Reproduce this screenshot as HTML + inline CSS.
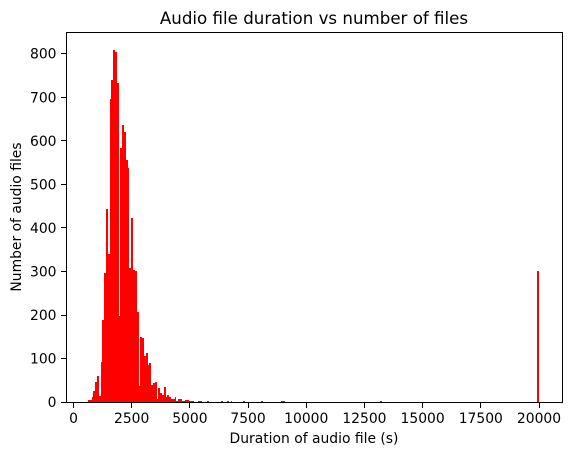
<!DOCTYPE html>
<html>
<head>
<meta charset="utf-8">
<style>
html,body{margin:0;padding:0;background:#fff;width:571px;height:455px;overflow:hidden}
svg{display:block}
text{font-family:"DejaVu Sans","Liberation Sans",sans-serif;fill:#000}
</style>
</head>
<body>
<svg id="chart" width="571" height="455" viewBox="0 0 571 455" xmlns="http://www.w3.org/2000/svg">
  <rect x="66" y="32" width="497" height="371" fill="#fff"/>
  <g id="bars" fill="#ff0000" shape-rendering="crispEdges"></g>
  <g id="x-ticks"></g>
  <g id="y-ticks"></g>
  <g stroke="#000" stroke-width="1" shape-rendering="crispEdges">
    <line x1="66.5" y1="32" x2="66.5" y2="403"/>
    <line x1="562.5" y1="32" x2="562.5" y2="403"/>
    <line x1="66" y1="32.5" x2="563" y2="32.5"/>
    <line x1="66" y1="402.5" x2="563" y2="402.5"/>
  </g>
  <text x="314" y="24" font-size="16.67" text-anchor="middle">Audio file duration vs number of files</text>
  <text x="314" y="443" font-size="13.89" text-anchor="middle">Duration of audio file (s)</text>
  <text x="0" y="0" font-size="13.89" text-anchor="middle" transform="translate(21 217) rotate(-90)">Number of audio files</text>
</svg>
<script>
const xTickValues = [0, 2500, 5000, 7500, 10000, 12500, 15000, 17500, 20000];
const yTickValues = [0, 100, 200, 300, 400, 500, 600, 700, 800];
const binStart = 623;
const binWidth = 77.5;
const counts = [
  5,5,12,26,46,60,14,92,188,296,
  443,340,695,739,808,803,732,197,583,636,
  620,555,537,308,422,304,301,207,37,150,
  148,106,113,86,90,40,44,47,8,33,
  21,17,35,12,17,12,8,8,12,3,
  8,8,3,3,5,5,2,2,1,0,
  0,2,2,0,0,0,2,0,0,0,
  0,0,0,0,2,0,0,2,0,1,
  0,0,0,0,0,0,2,0,0,0,
  0,0,0,0,0,0,2,0,0,0,
  0,0,0,0,0,0,0,2,2,0,
  0,0,0,0,0,0,0,0,0,0,
  0,0,0,0,0,0,0,0,0,0,
  0,0,0,0,0,0,0,0,0,0,
  0,0,0,0,0,0,0,0,0,0,
  0,0,0,0,0,0,0,0,0,0,
  0,0,1,0,0,0,0,0,0,0,
  0,0,0,0,0,0,0,0,0,0,
  0,0,0,0,0,0,0,0,0,0,
  0,0,0,0,0,0,0,0,0,0,
  0,0,0,0,0,0,0,0,0,0,
  0,0,0,0,0,0,0,0,0,0,
  0,0,0,0,0,0,0,0,0,0,
  0,0,0,0,0,0,0,0,0,0,
  0,0,0,0,0,0,0,0,0,302
];

const NS = 'http://www.w3.org/2000/svg';
function xScale(v) { return 73.5 + v * 0.023275; }
function yScale(v) { return 402.2 - v * 0.4356; }

const barsGroup = document.getElementById('bars');
counts.forEach(function (count, i) {
  if (count <= 0) return;
  const left = Math.round(xScale(binStart + i * binWidth));
  const right = Math.max(left + 1, Math.round(xScale(binStart + (i + 1) * binWidth)));
  const top = Math.round(yScale(count));
  const bar = document.createElementNS(NS, 'rect');
  
  
  bar.setAttribute('x', left);
  bar.setAttribute('y', Math.min(top, 401));
  bar.setAttribute('width', right - left);
  bar.setAttribute('height', 402 - Math.min(top, 401));
  barsGroup.appendChild(bar);
});

const xTicksGroup = document.getElementById('x-ticks');
xTickValues.forEach(function (v) {
  const x = Math.floor(xScale(v)) + 0.5;
  const tick = document.createElementNS(NS, 'line');
  
  
  tick.setAttribute('x1', x);
  tick.setAttribute('x2', x);
  tick.setAttribute('y1', 403);
  tick.setAttribute('y2', 408);
  tick.setAttribute('stroke', '#000');
  tick.setAttribute('shape-rendering', 'crispEdges');
  xTicksGroup.appendChild(tick);
  const label = document.createElementNS(NS, 'text');
  
  
  label.setAttribute('x', xScale(v));
  label.setAttribute('y', 423);
  label.setAttribute('font-size', '13.89');
  label.setAttribute('text-anchor', 'middle');
  label.textContent = String(v);
  xTicksGroup.appendChild(label);
});

const yTicksGroup = document.getElementById('y-ticks');
yTickValues.forEach(function (v) {
  const y = Math.floor(yScale(v)) + 0.5;
  const tick = document.createElementNS(NS, 'line');
  
  
  tick.setAttribute('x1', 61);
  tick.setAttribute('x2', 66);
  tick.setAttribute('y1', y);
  tick.setAttribute('y2', y);
  tick.setAttribute('stroke', '#000');
  tick.setAttribute('shape-rendering', 'crispEdges');
  yTicksGroup.appendChild(tick);
  const label = document.createElementNS(NS, 'text');
  
  
  label.setAttribute('x', 56.5);
  label.setAttribute('y', yScale(v) + 5);
  label.setAttribute('font-size', '13.89');
  label.setAttribute('text-anchor', 'end');
  label.textContent = String(v);
  yTicksGroup.appendChild(label);
});
</script>
</body>
</html>
